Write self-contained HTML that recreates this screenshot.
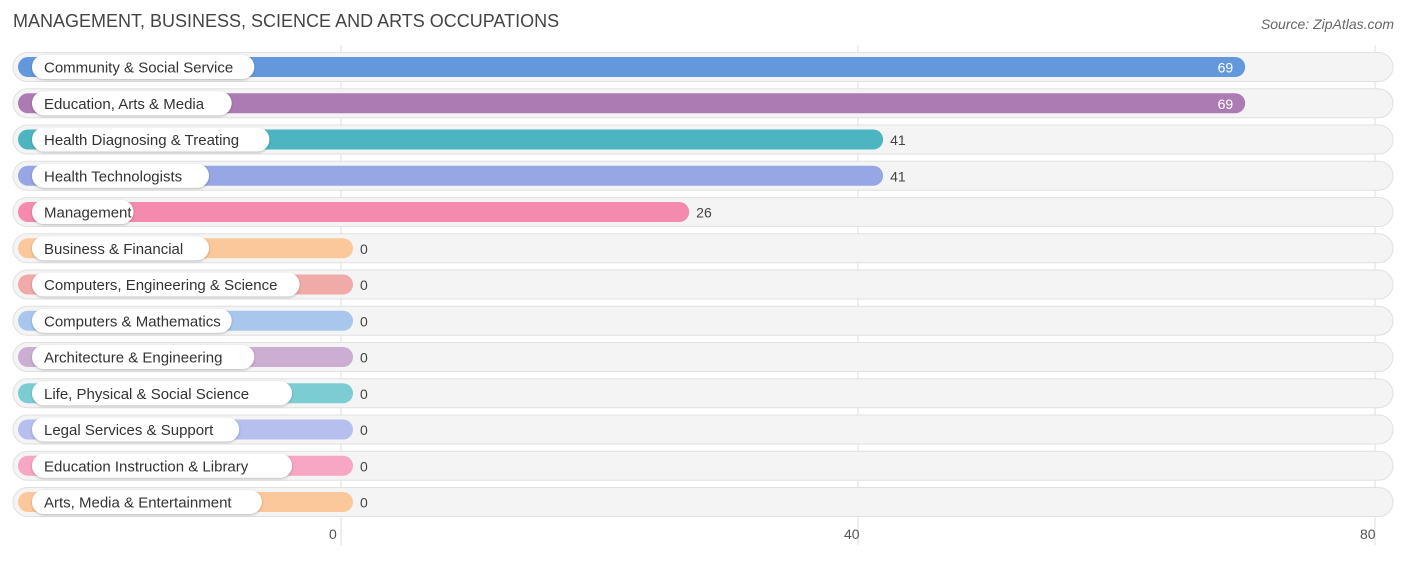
<!DOCTYPE html>
<html><head><meta charset="utf-8"><style>
body{margin:0;background:#fff;width:1406px;height:558px;overflow:hidden;font-family:"Liberation Sans",sans-serif}
</style></head><body>
<svg id="chart" width="1406" height="558" xmlns="http://www.w3.org/2000/svg">
<defs><filter id="sh" x="-10%" y="-30%" width="120%" height="160%"><feDropShadow dx="0" dy="1" stdDeviation="1.2" flood-color="#000" flood-opacity="0.25"/></filter></defs>
<text x="13" y="27" font-size="18" fill="#444">MANAGEMENT, BUSINESS, SCIENCE AND ARTS OCCUPATIONS</text>
<text x="1394" y="29" font-size="14" fill="#666" font-style="italic" text-anchor="end">Source: ZipAtlas.com</text>
<g id="grid"></g><g id="rows"></g>
</svg>
<script>
const categories=["Community & Social Service","Education, Arts & Media","Health Diagnosing & Treating","Health Technologists","Management","Business & Financial","Computers, Engineering & Science","Computers & Mathematics","Architecture & Engineering","Life, Physical & Social Science","Legal Services & Support","Education Instruction & Library","Arts, Media & Entertainment"];
const values=[69,69,41,41,26,0,0,0,0,0,0,0,0];
const colors=["#6399dc","#ad7bb3","#4db5c2","#97a6e4","#f48bae","#fbc89b","#f0aaa8","#a9c6ec","#cbaed2","#7ccdd3","#b6bfee","#f7a6c4","#fbc89b"];
const ticks=[0,40,80];
const NS="http://www.w3.org/2000/svg";
const svg=document.getElementById('chart');
const grid=document.getElementById('grid'),rows=document.getElementById('rows');
const gx=v=>341+v*12.925;      // gridline axis
const bx=v=>353+v*12.93;       // bar end axis
const ry=i=>67+i*36.25;
function mk(t,a,p){const e=document.createElementNS(NS,t);for(const k in a)e.setAttribute(k,a[k]);p.appendChild(e);return e;}
ticks.forEach(t=>{
  const l=mk('line',{x1:gx(t),x2:gx(t),y1:45,y2:545,stroke:'#ddd','stroke-width':1},grid);
  
  
  const tx=mk('text',{x:gx(t)-(t===0?12:t===40?14:15),y:539,'font-size':14,fill:'#555'},grid);
  tx.textContent=t;
  
  
});
categories.forEach((c,i)=>{
  const y=ry(i),v=values[i];
  const g=mk('g',{},rows);
  
  
  const bg=mk('rect',{x:13,y:y-14.5,width:1380,height:29,rx:14.5,fill:'#f4f4f4',stroke:'#e0e0e0'},g);
  
  
  const end=bx(v);
  const bar=mk('rect',{x:18,y:y-10,width:end-18,height:20,rx:10,fill:colors[i]},g);
  
  
  const w=c.length*7.55+26;
  const pill=mk('rect',{x:32,y:y-12,width:w,height:24,rx:12,fill:'#fff',filter:'url(#sh)'},g);
  
  
  const lt=mk('text',{x:44,y:y+5.5,'font-size':15,fill:'#333'},g);
  lt.textContent=c;
  
  
  const inside=v>60;
  const vt=mk('text',{x:inside?end-12:end+7,y:y+5.5,'font-size':14,fill:inside?'#fff':'#444','text-anchor':inside?'end':'start'},g);
  vt.textContent=v;
  
  
});
</script>
</body></html>
